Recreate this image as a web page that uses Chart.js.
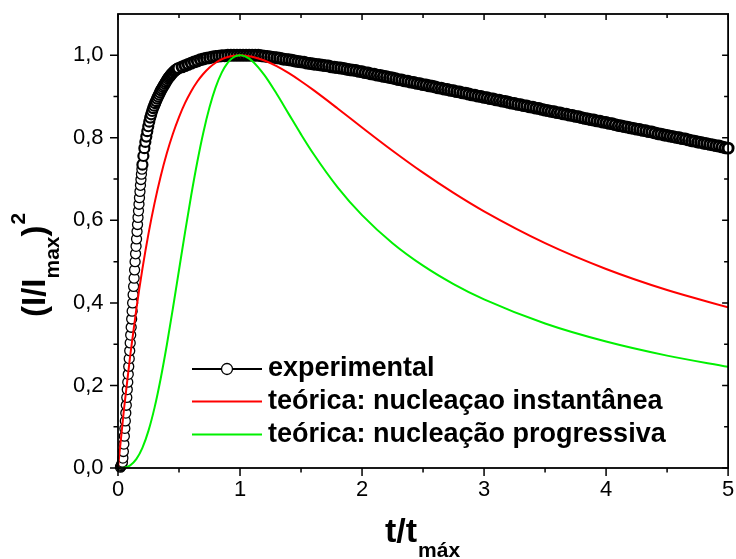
<!DOCTYPE html>
<html>
<head>
<meta charset="utf-8">
<script src="https://cdn.jsdelivr.net/npm/chart.js@4.4.1/dist/chart.umd.min.js"></script>
<style>
  html, body { margin: 0; padding: 0; background: #fff; }
  canvas { display: block; }
</style>
</head>
<body>
<canvas id="c" width="736" height="559"></canvas>
<script>
// ---------- data ----------
const xTickLabels = ['0', '1', '2', '3', '4', '5'];
const yTickLabels = ['0,0', '0,2', '0,4', '0,6', '0,8', '1,0'];
const xMinor = [0.5, 1.5, 2.5, 3.5, 4.5];
const yMinor = [0.1, 0.3, 0.5, 0.7, 0.9];

const seriesLabels = ['experimental', 'teórica: nucleaçao instantânea', 'teórica: nucleação progressiva'];
const xTitleMain = 't/t', xTitleSub = 'máx';
const yTitleMain = '(I/I', yTitleSub = 'max', yTitleClose = ')', yTitleSup = '2';

// experimental points [t/tmax, (I/Imax)^2]
const experimental = [
 [0.020,0.002],[0.024,0.004],[0.028,0.006],[0.032,0.009],[0.036,0.014],[0.040,0.024],[0.044,0.040],[0.048,0.058],[0.052,0.077],[0.056,0.096],
 [0.060,0.114],[0.064,0.133],[0.068,0.152],[0.072,0.171],[0.076,0.190],[0.080,0.208],[0.084,0.227],[0.088,0.246],[0.092,0.265],[0.096,0.284],
 [0.100,0.303],[0.104,0.322],[0.108,0.341],[0.112,0.361],[0.116,0.380],[0.120,0.400],[0.124,0.420],[0.128,0.440],[0.132,0.460],[0.136,0.480],
 [0.140,0.500],[0.144,0.519],[0.148,0.537],[0.152,0.555],[0.156,0.573],[0.160,0.590],[0.164,0.607],[0.168,0.623],[0.172,0.639],[0.176,0.655],
 [0.180,0.670],[0.184,0.685],[0.188,0.699],[0.192,0.712],[0.196,0.724],[0.200,0.735],
 [0.208,0.756],[0.216,0.775],[0.224,0.790],[0.232,0.803],[0.240,0.816],[0.248,0.828],[0.256,0.839],[0.264,0.849],[0.272,0.857],[0.280,0.865],
 [0.288,0.872],[0.296,0.878],[0.304,0.884],[0.312,0.889],[0.320,0.895],[0.328,0.900],[0.336,0.905],[0.344,0.910],[0.352,0.915],[0.360,0.919],
 [0.368,0.923],[0.376,0.927],[0.384,0.931],[0.392,0.935],[0.400,0.939],[0.408,0.943],[0.416,0.946],[0.424,0.949],[0.432,0.952],[0.440,0.955],
 [0.448,0.957],[0.456,0.960],[0.464,0.962],[0.472,0.964],[0.480,0.966],[0.488,0.967],[0.496,0.969],
 [0.525,0.972],[0.55,0.975],[0.575,0.978],[0.6,0.981],[0.625,0.984],[0.65,0.986],[0.675,0.989],[0.7,0.991],[0.725,0.993],[0.75,0.994],
 [0.775,0.996],[0.8,0.997],[0.825,0.998],[0.85,0.999],[0.875,0.999],[0.9,1.0],[0.925,1.0],[0.95,1.0],[0.975,1.0],[1.0,1.0],
 [1.025,1.0],[1.05,1.0],[1.075,1.0],[1.1,1.0],[1.125,1.0],[1.15,1.0],[1.175,0.999],[1.2,0.998],[1.225,0.997],[1.25,0.996],
 [1.275,0.995],[1.3,0.994],[1.325,0.993],[1.35,0.991],[1.375,0.99],[1.4,0.989],[1.425,0.988],[1.45,0.986],[1.475,0.985],[1.5,0.984],
 [1.525,0.983],[1.55,0.981],[1.575,0.98],[1.6,0.979],[1.625,0.978],[1.65,0.977],[1.675,0.976],[1.7,0.975],[1.725,0.974],[1.75,0.972],
 [1.775,0.971],[1.8,0.97],[1.825,0.969],[1.85,0.968],[1.875,0.966],[1.9,0.965],[1.925,0.964],[1.95,0.963],[1.975,0.961],[2.0,0.96],
 [2.025,0.958],[2.05,0.957],[2.075,0.955],[2.1,0.954],[2.125,0.952],[2.15,0.951],[2.175,0.949],[2.2,0.948],[2.225,0.946],[2.25,0.945],
 [2.275,0.943],[2.3,0.941],[2.325,0.94],[2.35,0.938],[2.375,0.937],[2.4,0.935],[2.425,0.934],[2.45,0.932],[2.475,0.931],[2.5,0.929],
 [2.525,0.928],[2.55,0.926],[2.575,0.925],[2.6,0.923],[2.625,0.921],[2.65,0.92],[2.675,0.918],[2.7,0.917],[2.725,0.915],[2.75,0.914],
 [2.775,0.912],[2.8,0.911],[2.825,0.909],[2.85,0.908],[2.875,0.906],[2.9,0.904],[2.925,0.903],[2.95,0.901],[2.975,0.9],[3.0,0.898],
 [3.025,0.897],[3.05,0.895],[3.075,0.894],[3.1,0.892],[3.125,0.891],[3.15,0.889],[3.175,0.888],[3.2,0.886],[3.225,0.884],[3.25,0.883],
 [3.275,0.881],[3.3,0.88],[3.325,0.878],[3.35,0.877],[3.375,0.875],[3.4,0.874],[3.425,0.872],[3.45,0.871],[3.475,0.869],[3.5,0.867],
 [3.525,0.866],[3.55,0.864],[3.575,0.863],[3.6,0.861],[3.625,0.86],[3.65,0.858],[3.675,0.857],[3.7,0.855],[3.725,0.854],[3.75,0.852],
 [3.775,0.851],[3.8,0.849],[3.825,0.847],[3.85,0.846],[3.875,0.844],[3.9,0.843],[3.925,0.841],[3.95,0.84],[3.975,0.838],[4.0,0.837],
 [4.025,0.835],[4.05,0.834],[4.075,0.832],[4.1,0.83],[4.125,0.829],[4.15,0.827],[4.175,0.826],[4.2,0.824],[4.225,0.823],[4.25,0.821],
 [4.275,0.82],[4.3,0.818],[4.325,0.817],[4.35,0.815],[4.375,0.814],[4.4,0.812],[4.425,0.81],[4.45,0.809],[4.475,0.807],[4.5,0.806],
 [4.525,0.804],[4.55,0.803],[4.575,0.801],[4.6,0.8],[4.625,0.798],[4.65,0.797],[4.675,0.795],[4.7,0.793],[4.725,0.792],[4.75,0.79],
 [4.775,0.789],[4.8,0.787],[4.825,0.786],[4.85,0.784],[4.875,0.783],[4.9,0.781],[4.925,0.78],[4.95,0.778],[4.975,0.776],[5.0,0.775]
];

// theoretical curves, sampled at theoT
const theoT = [0,0.05,0.1,0.15,0.2,0.25,0.3,0.35,0.4,0.45,0.5,0.55,0.6,0.65,0.7,0.75,0.8,0.85,0.9,0.95,1.0,1.05,1.1,1.2,1.3,1.4,1.5,1.6,1.8,2.0,2.25,2.5,2.75,3.0,3.5,4.0,4.5,5.0];
const instV = [0,0.1449,0.2724,0.3844,0.4825,0.5680,0.6423,0.7069,0.7624,0.8099,0.8503,0.8845,0.9129,0.9365,0.9553,0.9704,0.9819,0.9903,0.9959,0.9989,1.0,0.9991,0.9965,0.9872,0.9735,0.9565,0.9371,0.9161,0.8712,0.8251,0.7687,0.7155,0.6664,0.6217,0.5447,0.4822,0.4312,0.3894];
const progV = [0,0.0008,0.0065,0.0214,0.0488,0.0905,0.1469,0.2170,0.2981,0.3870,0.4797,0.5723,0.6608,0.7421,0.8137,0.8739,0.9221,0.9579,0.9822,0.9958,1.0,0.9963,0.9861,0.9518,0.9066,0.8574,0.8084,0.7620,0.6801,0.6126,0.5446,0.4902,0.4456,0.4085,0.3501,0.3064,0.2723,0.2451];

// ---------- chart ----------
const FONT = '"Liberation Sans", Arial, Helvetica, sans-serif';

const expPoints = experimental.map(p => ({x: p[0], y: p[1]}));
const instPoints = theoT.map((t, i) => ({x: t, y: instV[i]}));
const progPoints = theoT.map((t, i) => ({x: t, y: progV[i]}));

const framePlugin = {
  id: 'frameTicks',
  afterDatasetsDraw(chart) {
    const {ctx, chartArea: a, scales: {x, y}} = chart;
    ctx.save();
    ctx.strokeStyle = '#000';
    ctx.lineWidth = 1.8;
    ctx.strokeRect(a.left, a.top, a.right - a.left, a.bottom - a.top);
    ctx.lineWidth = 1.5;
    ctx.beginPath();
    x.ticks.forEach(t => {
      const px = x.getPixelForValue(t.value);
      ctx.moveTo(px, a.bottom); ctx.lineTo(px, a.bottom + 8);
      ctx.moveTo(px, a.top); ctx.lineTo(px, a.top + 6);
    });
    xMinor.forEach(v => {
      const px = x.getPixelForValue(v);
      ctx.moveTo(px, a.bottom); ctx.lineTo(px, a.bottom + 4.5);
      ctx.moveTo(px, a.top); ctx.lineTo(px, a.top + 4);
    });
    y.ticks.forEach(t => {
      const py = y.getPixelForValue(t.value);
      ctx.moveTo(a.left, py); ctx.lineTo(a.left - 8, py);
      ctx.moveTo(a.right, py); ctx.lineTo(a.right - 6, py);
    });
    yMinor.forEach(v => {
      const py = y.getPixelForValue(v);
      ctx.moveTo(a.left, py); ctx.lineTo(a.left - 4.5, py);
      ctx.moveTo(a.right, py); ctx.lineTo(a.right - 4, py);
    });
    ctx.stroke();
    ctx.restore();
  },
  afterDraw(chart) {
    const {ctx, chartArea: a} = chart;
    ctx.save();
    ctx.fillStyle = '#000';
    ctx.textAlign = 'left';
    ctx.textBaseline = 'alphabetic';

    // legend inside plot
    const ds = chart.data.datasets;
    const rowY = [369, 401.5, 434.5];
    const lx0 = 192, lx1 = 262, tx = 268;
    [0, 1, 2].forEach((di, r) => {
      const d = ds[di];
      const yy = rowY[r];
      ctx.strokeStyle = d.borderColor;
      ctx.lineWidth = d.legendLineWidth;
      ctx.beginPath(); ctx.moveTo(lx0, yy); ctx.lineTo(lx1, yy); ctx.stroke();
      if (d.pointRadius > 0) {
        ctx.beginPath();
        ctx.arc((lx0 + lx1) / 2, yy, 5.5, 0, Math.PI * 2);
        ctx.fillStyle = '#fff'; ctx.fill();
        ctx.lineWidth = 1.3; ctx.strokeStyle = '#000'; ctx.stroke();
      }
      ctx.fillStyle = '#000';
      ctx.font = 'bold 27px ' + FONT;
      ctx.fillText(d.label, tx, yy + 7);
    });

    // x title
    ctx.font = 'bold 34px ' + FONT;
    const wMain = ctx.measureText(xTitleMain).width;
    ctx.font = 'bold 21px ' + FONT;
    const wSub = ctx.measureText(xTitleSub).width;
    let x0 = (a.left + a.right) / 2 - (wMain + wSub) / 2 - 1;
    ctx.font = 'bold 34px ' + FONT;
    ctx.fillText(xTitleMain, x0, 542);
    ctx.font = 'bold 21px ' + FONT;
    ctx.fillText(xTitleSub, x0 + wMain + 1, 557);

    // y title (rotated)
    ctx.save();
    ctx.translate(45, 317);
    ctx.rotate(-Math.PI / 2);
    let p = 0;
    ctx.font = 'bold 33px ' + FONT;
    ctx.fillText(yTitleMain, p, 0); p += ctx.measureText(yTitleMain).width;
    ctx.font = 'bold 21px ' + FONT;
    ctx.fillText(yTitleSub, p, 14); p += ctx.measureText(yTitleSub).width;
    ctx.font = 'bold 33px ' + FONT;
    ctx.fillText(yTitleClose, p, 0); p += ctx.measureText(yTitleClose).width;
    ctx.font = 'bold 21px ' + FONT;
    ctx.fillText(yTitleSup, p + 1, -20);
    ctx.restore();

    ctx.restore();
  }
};

new Chart(document.getElementById('c'), {
  type: 'scatter',
  data: {
    datasets: [
      {
        label: seriesLabels[0],
        data: expPoints,
        showLine: true,
        borderColor: '#000',
        borderWidth: 1,
        legendLineWidth: 2,
        pointRadius: 5,
        pointBorderWidth: (c) => {
          const t = c.raw ? c.raw.x : 0;
          return t < 0.2 ? 1.3 : (t < 0.5 ? 2.2 : 2.9);
        },
        pointBackgroundColor: '#fff',
        pointBorderColor: '#000',
        tension: 0,
        clip: 8,
        order: 2
      },
      {
        label: seriesLabels[1],
        data: instPoints,
        showLine: true,
        borderColor: '#ff0000',
        borderWidth: 2,
        legendLineWidth: 2.2,
        pointRadius: 0,
        cubicInterpolationMode: 'monotone',
        order: 1
      },
      {
        label: seriesLabels[2],
        data: progPoints,
        showLine: true,
        borderColor: '#00f000',
        borderWidth: 2,
        legendLineWidth: 2.2,
        pointRadius: 0,
        cubicInterpolationMode: 'monotone',
        order: 0
      }
    ]
  },
  options: {
    responsive: false,
    animation: false,
    devicePixelRatio: 1,
    layout: { padding: { top: 14, right: 4, left: 0, bottom: 0 } },
    plugins: { legend: { display: false }, tooltip: { enabled: false }, title: { display: false } },
    scales: {
      x: {
        type: 'linear', min: 0, max: 5,
        grid: { display: false, drawTicks: false },
        border: { display: false },
        ticks: {
          stepSize: 1, padding: 9, color: '#000', maxRotation: 0,
          font: { family: FONT, size: 22 },
          callback: (v) => xTickLabels[Math.round(v)]
        },
        afterFit: (s) => { s.height = 91; s.paddingLeft = 0; s.paddingRight = 0; }
      },
      y: {
        type: 'linear', min: 0, max: 1.1,
        grid: { display: false, drawTicks: false },
        border: { display: false },
        ticks: {
          stepSize: 0.2, padding: 14.5, color: '#000', includeBounds: false,
          font: { family: FONT, size: 22 },
          callback: (v) => yTickLabels[Math.round(v / 0.2)]
        },
        afterFit: (s) => { s.width = 118; s.paddingTop = 0; s.paddingBottom = 0; }
      }
    }
  },
  plugins: [framePlugin]
});
</script>
</body>
</html>
